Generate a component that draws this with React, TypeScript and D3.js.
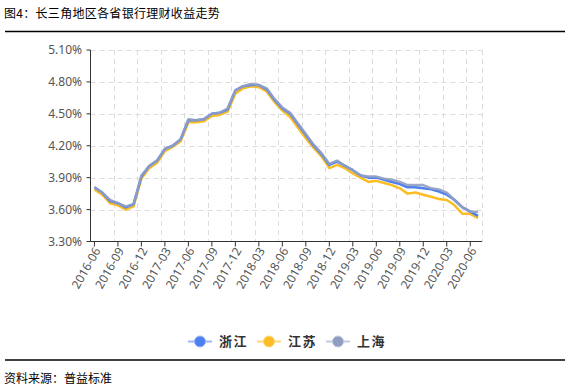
import * as d3 from 'd3';

const months: string[] = [];
for (let y = 2016; y <= 2020; y++) {
  for (let m = 1; m <= 12; m++) {
    const key = `${y}-${String(m).padStart(2, '0')}`;
    if (key >= '2016-06' && key <= '2020-07') months.push(key);
  }
}

const zhejiang = [
  3.81, 3.76, 3.68, 3.66, 3.62, 3.65, 3.91, 4.01, 4.06, 4.17,
  4.2, 4.26, 4.44, 4.44, 4.45, 4.5, 4.51, 4.54, 4.72, 4.76,
  4.77, 4.77, 4.73, 4.63, 4.55, 4.5, 4.4, 4.3, 4.2, 4.12,
  4.02, 4.05, 4.01, 3.97, 3.92, 3.9, 3.9, 3.88, 3.86, 3.84,
  3.81, 3.81, 3.8, 3.79, 3.77, 3.74, 3.69, 3.62, 3.58, 3.54,
];
const jiangsu = [
  3.79, 3.74, 3.66, 3.64, 3.6, 3.63, 3.89, 3.99, 4.04, 4.15,
  4.19, 4.24, 4.42, 4.42, 4.43, 4.48, 4.49, 4.52, 4.69, 4.74,
  4.76, 4.75, 4.71, 4.61, 4.53, 4.47, 4.37, 4.27, 4.18, 4.1,
  3.99, 4.02, 3.99, 3.94, 3.9, 3.86, 3.87, 3.85, 3.83, 3.8,
  3.75, 3.76, 3.74, 3.72, 3.7, 3.69, 3.64, 3.56, 3.56, 3.52,
];
const shanghai = [
  3.81, 3.76, 3.69, 3.66, 3.63, 3.65, 3.92, 4.01, 4.06, 4.17,
  4.2, 4.26, 4.45, 4.44, 4.45, 4.5, 4.51, 4.55, 4.72, 4.76,
  4.78, 4.77, 4.74, 4.64, 4.56, 4.51, 4.41, 4.31, 4.21, 4.13,
  4.03, 4.06, 4.01, 3.97, 3.92, 3.91, 3.91, 3.89, 3.88, 3.86,
  3.83, 3.83, 3.83, 3.8, 3.79, 3.76, 3.69, 3.62, 3.58, 3.58,
];
const yTicks = [3.3, 3.6, 3.9, 4.2, 4.5, 4.8, 5.1];

const seriesList = [
  { name: '浙江', values: zhejiang, color: '#4f80f2', light: '#9db8f5' },
  { name: '江苏', values: jiangsu, color: '#fcbd24', light: '#fdd77a' },
  { name: '上海', values: shanghai, color: '#8f9dc2', light: '#c2cae0' },
];

const W = 570;
const H = 390;
const left = 90.5;
const right = 482;
const top = 50;
const bottom = 241.5;
const font = '"Noto Sans", "Noto Sans CJK SC", sans-serif';
const cjk = '"Noto Sans CJK SC", sans-serif';

export default function App() {
  const x = d3.scaleBand<string>().domain(months).range([left, right]).padding(0);
  const y = d3.scaleLinear().domain([3.3, 5.1]).range([bottom, top]);
  const bw = x.bandwidth();
  const cx = (m: string) => (x(m) ?? 0) + bw / 2;

  const labelMonths = months.filter((_, i) => i % 3 === 0);
  const splitXs = months.filter((_, i) => i % 3 === 0 && i > 0).map((m) => x(m) ?? 0);
  splitXs.push(right);

  const line = d3
    .line<number>()
    .x((_, i) => cx(months[i]))
    .y((d) => y(d));

  const drawOrder = [seriesList[1], seriesList[0], seriesList[2]];
  const legendX = [188, 257, 326];
  const legendY = 341.5;

  return (
    <svg
      width={W}
      height={H}
      style={{ position: 'absolute', left: 0, top: 0, background: '#fff' }}
    >
      <text x={4} y={18} fontSize={12} fontFamily={cjk} letterSpacing={0.3} fill="#000">
        图4：长三角地区各省银行理财收益走势
      </text>
      <line x1={5} x2={565} y1={31.5} y2={31.5} stroke="#000" strokeWidth={1.3} />

      {/* grid */}
      {yTicks.slice(1).map((t) => (
        <line
          key={t}
          x1={left}
          x2={right}
          y1={Math.round(y(t)) + 0.5}
          y2={Math.round(y(t)) + 0.5}
          stroke="#dcdcdc"
          strokeDasharray="5,4"
        />
      ))}
      {splitXs.map((sx, i) => (
        <line
          key={i}
          x1={Math.round(sx) + 0.5}
          x2={Math.round(sx) + 0.5}
          y1={top}
          y2={bottom}
          stroke="#dcdcdc"
          strokeDasharray="5,4"
        />
      ))}

      {/* y axis */}
      <line x1={left} x2={left} y1={top} y2={bottom} stroke="#333" />
      {yTicks.map((t) => (
        <g key={t}>
          <line x1={left - 4} x2={left} y1={y(t)} y2={y(t)} stroke="#333" />
          <text
            x={82}
            y={y(t)}
            dy="0.35em"
            textAnchor="end"
            fontSize={12}
            fontFamily={font}
            fill="#555"
          >
            {t.toFixed(2)}%
          </text>
        </g>
      ))}

      {/* x axis */}
      <line x1={left} x2={right} y1={bottom} y2={bottom} stroke="#333" />
      {labelMonths.map((m) => (
        <g key={m}>
          <line x1={cx(m)} x2={cx(m)} y1={bottom} y2={bottom + 5} stroke="#333" />
          <text
            transform={`translate(${cx(m) + 3},${bottom + 7}) rotate(-60)`}
            textAnchor="end"
            dy="0.35em"
            fontSize={12}
            fontFamily={font}
            fill="#555"
          >
            {m}
          </text>
        </g>
      ))}

      {/* series */}
      {drawOrder.map((s) => (
        <path
          key={s.name}
          d={line(s.values) ?? ''}
          fill="none"
          stroke={s.color}
          strokeWidth={2.5}
          strokeOpacity={s.name === '上海' ? 0.9 : 1}
          strokeLinejoin="round"
        />
      ))}

      {/* legend */}
      {seriesList.map((s, i) => (
        <g key={s.name} transform={`translate(${legendX[i]},${legendY})`}>
          <line x1={0} x2={24} y1={0} y2={0} stroke={s.light} strokeWidth={2} />
          <circle cx={12} cy={0} r={5.5} fill={s.color} stroke={s.light} strokeWidth={1} />
          <text
            x={31}
            y={0}
            dy="0.36em"
            fontSize={13}
            fontWeight="bold"
            fontFamily={cjk}
            letterSpacing={1.5}
            fill="#333"
          >
            {s.name}
          </text>
        </g>
      ))}

      <line x1={5} x2={565} y1={360} y2={360} stroke="#000" strokeWidth={1.3} />
      <text x={4} y={383} fontSize={12} fontFamily={cjk} fill="#000">
        资料来源：普益标准
      </text>
    </svg>
  );
}
